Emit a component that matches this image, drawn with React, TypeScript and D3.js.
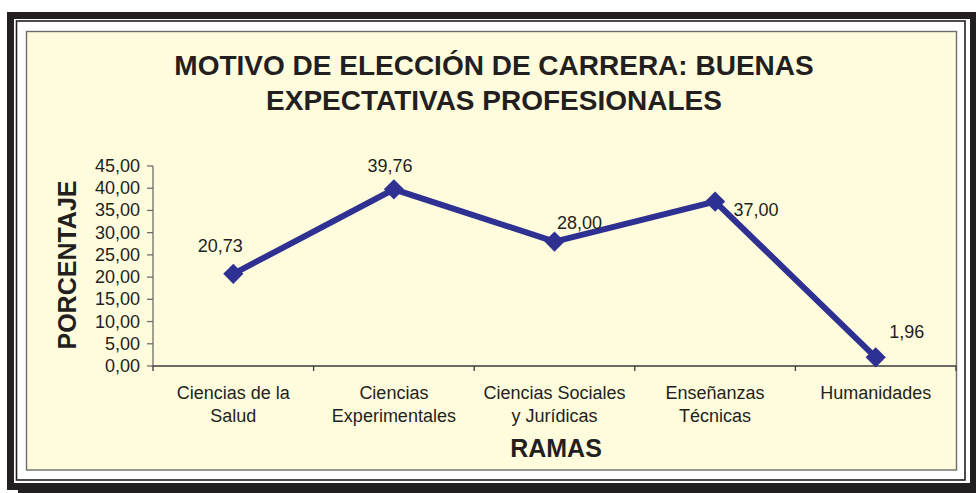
import React from "react";
import * as d3 from "d3";

const categories: string[][] = [
  ["Ciencias de la", "Salud"],
  ["Ciencias", "Experimentales"],
  ["Ciencias Sociales", "y Jurídicas"],
  ["Enseñanzas", "Técnicas"],
  ["Humanidades"],
];
const values: number[] = [20.73, 39.76, 28.0, 37.0, 1.96];
const yTicks: number[] = [0, 5, 10, 15, 20, 25, 30, 35, 40, 45];
const titleLines: string[] = ["MOTIVO DE ELECCIÓN DE CARRERA: BUENAS", "EXPECTATIVAS PROFESIONALES"];
const yTitle = "PORCENTAJE";
const xTitle = "RAMAS";

// label placement offsets (layout, not data)
const labelOffsets: [number, number][] = [
  [-13, -22],
  [-4, -17],
  [25, -13],
  [41, 14],
  [31, -19],
];

const W = 976;
const H = 493;
const FONT = "'Liberation Sans', Arial, Helvetica, sans-serif";
const TXT = "#231f20";
const BLUE = "#2e3192";

export default function App() {
  const x = d3
    .scaleBand<number>()
    .domain(d3.range(categories.length))
    .range([153, 956])
    .padding(0);
  const y = d3.scaleLinear().domain([0, 45]).range([366, 166]);
  const cx = (i: number) => (x(i) as number) + x.bandwidth() / 2;
  const line = d3
    .line<number>()
    .x((_, i) => cx(i))
    .y((d) => y(d));
  const fmt = (v: number) => v.toFixed(2).replace(".", ",");
  const boundaries = d3.range(categories.length + 1).map((i) =>
    i < categories.length ? (x(i) as number) : 956
  );
  const diamond = d3.symbol().type(d3.symbolDiamond2).size(260)();

  return (
    <svg
      width={W}
      height={H}
      style={{ position: "absolute", left: 0, top: 0 }}
      fontFamily={FONT}
    >
      <rect x={0} y={0} width={W} height={H} fill="#ffffff" />
      {/* frame */}
      <rect x={7} y={12} width={969} height={478} fill="#231f20" />
      <rect x={18} y={483} width={958} height={10} fill="#231f20" />
      <rect x={14} y={19} width={956} height={464} fill="#ffffff" />
      <rect x={16.5} y={21} width={948.5} height={459} fill="none" stroke="#231f20" strokeWidth={1.6} />
      <rect x={26.5} y={31.5} width={930} height={438.5} fill="#fffcdd" stroke="#6d6d6d" strokeWidth={1.4} />

      {/* title */}
      {titleLines.map((t, i) => (
        <text
          key={i}
          x={494}
          y={75 + i * 35}
          textAnchor="middle"
          fontSize={28}
          fontWeight="bold"
          fill={TXT}
        >
          {t}
        </text>
      ))}

      {/* y axis */}
      <line x1={153} x2={153} y1={166} y2={366} stroke="#6d6d6d" strokeWidth={1.3} />
      {yTicks.map((t) => (
        <g key={t}>
          <line x1={147} x2={153} y1={y(t)} y2={y(t)} stroke="#6d6d6d" strokeWidth={1.3} />
          <text x={140} y={y(t) + 6} textAnchor="end" fontSize={18} fill={TXT}>
            {fmt(t)}
          </text>
        </g>
      ))}
      <text
        transform={`translate(76,265) rotate(-90)`}
        textAnchor="middle"
        fontSize={25}
        fontWeight="bold"
        fill={TXT}
      >
        {yTitle}
      </text>

      {/* x axis */}
      <line x1={153} x2={956} y1={366} y2={366} stroke="#3a3a3a" strokeWidth={1.3} />
      {boundaries.map((b, i) => (
        <line key={i} x1={b} x2={b} y1={366} y2={371} stroke="#3a3a3a" strokeWidth={1.3} />
      ))}
      {categories.map((lines, i) => (
        <text key={i} x={cx(i)} textAnchor="middle" fontSize={18} fill={TXT}>
          {lines.map((l, j) => (
            <tspan key={j} x={cx(i)} y={399 + j * 23}>
              {l}
            </tspan>
          ))}
        </text>
      ))}
      <text x={556} y={457} textAnchor="middle" fontSize={25} fontWeight="bold" fill={TXT}>
        {xTitle}
      </text>

      {/* series */}
      <path d={line(values) || ""} fill="none" stroke={BLUE} strokeWidth={6} strokeLinejoin="miter" />
      {values.map((v, i) => (
        <path key={i} d={diamond || ""} transform={`translate(${cx(i)},${y(v)})`} fill={BLUE} />
      ))}
      {values.map((v, i) => (
        <text
          key={i}
          x={cx(i) + labelOffsets[i][0]}
          y={y(v) + labelOffsets[i][1]}
          textAnchor="middle"
          fontSize={18}
          fill={TXT}
        >
          {fmt(v)}
        </text>
      ))}
    </svg>
  );
}
